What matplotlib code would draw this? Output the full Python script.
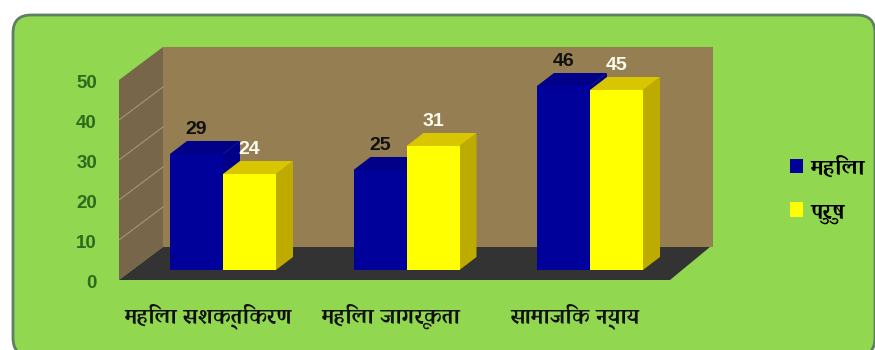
import matplotlib
matplotlib.use("Agg")
import matplotlib.pyplot as plt
from matplotlib.patches import FancyBboxPatch, Patch

categories = ["महिला सशक्तिकरण", "महिला जागरूकता", "सामाजिक न्याय"]
series_names = ["महिला", "पुरुष"]
women = [29, 25, 46]
men = [24, 31, 45]
axis_ticks = [0, 10, 20, 30, 40, 50]

DEV = ["Sumana", "Tiro Devanagari Hindi", "DejaVu Sans"]
NUM = ["Liberation Sans"]

BLUE = ("#00009A", "#000088", "#000088")   # front, side, top
YELLOW = ("#FFFF00", "#BDAB00", "#D8C600")

W, H = 875, 350
fig = plt.figure(figsize=(W / 100, H / 100), dpi=100, facecolor="white")

# Rounded card behind the chart, in pixel units
bg = fig.add_axes([0, 0, 1, 1])
bg.set_xlim(0, W)
bg.set_ylim(H, 0)
bg.axis("off")
bg.add_patch(FancyBboxPatch((13, 15), 862, 341, boxstyle="round,pad=0,rounding_size=18",
                            fc="#92D750", ec="#5E7F62", lw=2))

# Chart axes: x in category units, y in value units
GROUP_PX = 183.5
BASE_X = 223.0
BASE_Y = 270.0
PX_PER_VALUE = 4.0
ax = fig.add_axes([0, 0, 1, 1])
ax.set_xlim(-BASE_X / GROUP_PX, (W - BASE_X) / GROUP_PX)
ax.set_ylim((BASE_Y - H) / PX_PER_VALUE, BASE_Y / PX_PER_VALUE)
ax.axis("off")
ax.patch.set_alpha(0)

dx = lambda px: px / GROUP_PX
dy = lambda px: px / PX_PER_VALUE

# Box geometry
floor_front = -dy(10)
floor_back = dy(23)
top_value = axis_ticks[-1]
wall_l = dx(119 - BASE_X)
wall_b = dx(163 - BASE_X)
wall_r = dx(713 - BASE_X)
floor_r_front = dx(670 - BASE_X)
floor_r_back = dx(710 - BASE_X)

# Back wall
ax.fill([wall_b, wall_r, wall_r, wall_b],
        [floor_back, floor_back, top_value + floor_back, top_value + floor_back],
        color="#957F52", lw=0, zorder=1)
# Side wall
ax.fill([wall_l, wall_b, wall_b, wall_l],
        [floor_front, floor_back, top_value + floor_back, top_value + floor_front],
        color="#78664A", lw=0, zorder=1)
# Floor
ax.fill([wall_l, floor_r_front, floor_r_back, wall_b],
        [floor_front, floor_front, floor_back, floor_back],
        color="#333333", lw=0, zorder=2)
# Gridlines on the side wall
for t in axis_ticks[1:-1]:
    ax.plot([wall_l, wall_b], [t + floor_front, t + floor_back],
            color="#A39678", lw=0.8, zorder=3)

# Value axis labels
for t in axis_ticks:
    ax.text(dx(97 - BASE_X), t + floor_front - dy(3), str(t), family=NUM, fontsize=13.5,
            fontweight="bold", color="#2F6B1E", ha="right", va="center", zorder=6)


def bar3d(center, value, colors, z):
    """Front face from ax.bar, with side and top faces behind it."""
    half = dx(26.5)
    ox, oy = dx(17), dy(13)
    l, r = center - half, center + half
    ax.fill([r, r + ox, r + ox, r], [0, oy, value + oy, value],
            color=colors[1], lw=0, zorder=z)
    ax.fill([l, l + ox, r + ox, r], [value, value + oy, value + oy, value],
            color=colors[2], lw=0, zorder=z)
    ax.bar(center, value, width=2 * half, color=colors[0], lw=0, zorder=z + 0.1)


offset = dx(26.5)
for i, (a, b) in enumerate(zip(women, men)):
    bar3d(i - offset, a, BLUE, 4 + i)
    bar3d(i + offset, b, YELLOW, 4.3 + i)
    ax.annotate(str(a), (i - offset, a), xytext=(0, 25), textcoords="offset pixels",
                family=NUM, fontsize=14, fontweight="bold", color="#111111",
                ha="center", va="center", zorder=9)
    ax.annotate(str(b), (i + offset, b), xytext=(0, 25), textcoords="offset pixels",
                family=NUM, fontsize=14, fontweight="bold", color="#FBFBF0",
                ha="center", va="center", zorder=9)
    ax.text(i - dx(15), -dy(46), categories[i], family=DEV, fontsize=15.5,
            fontweight="bold", color="#111111", ha="center", va="center", zorder=9)

handles = [Patch(fc=BLUE[0], lw=0), Patch(fc=YELLOW[0], lw=0)]
ax.legend(handles, series_names, loc="center left", bbox_to_anchor=(790 / W, 1 - 190 / H),
          frameon=False, handlelength=0.6, handleheight=0.6, handletextpad=0.3,
          labelspacing=1.02, borderpad=0, borderaxespad=0,
          prop={"family": DEV, "size": 16, "weight": "bold"})

fig.savefig("out.png", dpi=100)
